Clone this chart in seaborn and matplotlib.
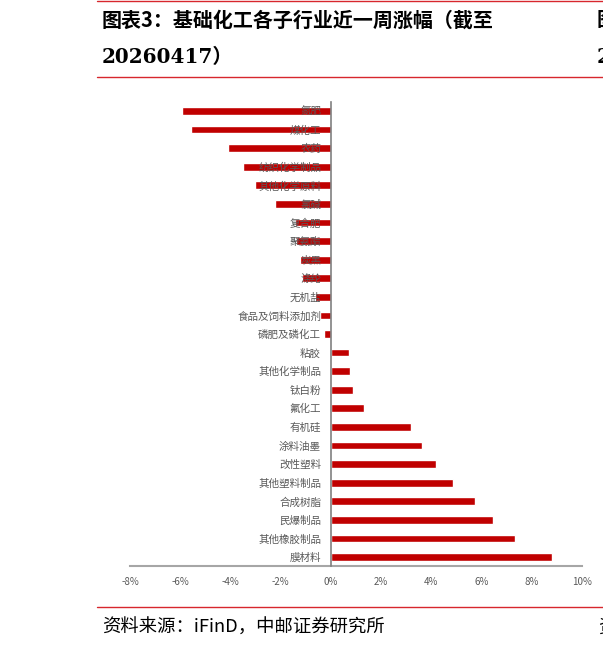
import matplotlib
matplotlib.use("Agg")
import matplotlib.pyplot as plt
import seaborn as sns
import pandas as pd
from matplotlib.lines import Line2D

categories = ["氮肥", "煤化工", "农药", "纺织化学制品", "其他化学原料", "氯碱", "复合肥",
              "聚氨酯", "炭黑", "涤纶", "无机盐", "食品及饲料添加剂", "磷肥及磷化工",
              "粘胶", "其他化学制品", "钛白粉", "氟化工", "有机硅", "涂料油墨", "改性塑料",
              "其他塑料制品", "合成树脂", "民爆制品", "其他橡胶制品", "膜材料"]
values = [-5.93, -5.59, -4.08, -3.51, -3.04, -2.21, -1.43, -1.38, -1.22, -1.16, -0.62,
          -0.44, -0.26, 0.73, 0.76, 0.90, 1.31, 3.21, 3.61, 4.17, 4.86, 5.74, 6.47, 7.32, 8.82]
xticks = [-8, -6, -4, -2, 0, 2, 4, 6, 8, 10]
xtick_labels = [f"{t}%" for t in xticks]
title_line1 = "图表3：基础化工各子行业近一周涨幅（截至"
title_line2 = "20260417）"
source_text = "资料来源：iFinD，中邮证券研究所"

sns.set_theme(style="white")
plt.rcParams['font.family'] = ['Noto Sans CJK SC', 'DejaVu Sans']
plt.rcParams['axes.unicode_minus'] = False

W, H = 603, 649
fig = plt.figure(figsize=(W / 100, H / 100), dpi=100)
ax = fig.add_axes([130 / W, 1 - 566.3 / H, (582 - 130) / W, (566.3 - 101.7) / H])

df = pd.DataFrame({"cat": categories, "val": values})
sns.barplot(data=df, x="val", y="cat", orient="h", color="#C00000", width=0.42,
            saturation=1, ax=ax, order=categories, zorder=1)

ax.set_xlim(-8, 10)
ax.set_xticks(xticks)
ax.set_xticklabels(xtick_labels, fontsize=7, color="#595959")
ax.set_xlabel("")
ax.set_ylabel("")
ax.tick_params(axis="x", length=0, pad=8)
ax.tick_params(axis="y", length=0, pad=7, labelsize=7.6, labelcolor="#595959")
ax.spines['left'].set_position(('data', 0))
for s in ['top', 'right']:
    ax.spines[s].set_visible(False)
ax.spines['left'].set_color("#808080")
ax.spines['bottom'].set_color("#A6A6A6")
ax.spines['left'].set_linewidth(1.2)
ax.spines['bottom'].set_linewidth(1.5)
ax.spines['left'].set_zorder(6)
ax.yaxis.set_zorder(5)
ax.grid(False)

red = "#D7272D"
def hline(ypx, x0=97, x1=603, lw=1.0):
    fig.add_artist(Line2D([x0 / W, x1 / W], [1 - ypx / H, 1 - ypx / H],
                          color=red, lw=lw, transform=fig.transFigure))

hline(1)
hline(77)
hline(607)

fig.text(102 / W, 1 - 20 / H, title_line1, fontsize=14.4, fontweight="bold",
         color="black", va="center", ha="left")
fig.text(102 / W, 1 - 57 / H, title_line2, fontsize=14.4, fontweight="bold",
         color="black", va="center", ha="left", family=['DejaVu Serif', 'Noto Sans CJK SC'])
fig.text(597 / W, 1 - 20 / H, "图", fontsize=14.4, fontweight="bold", color="black",
         va="center", ha="left")
fig.text(597 / W, 1 - 57 / H, "2", fontsize=14.4, fontweight="bold", color="black",
         va="center", ha="left", family=['DejaVu Serif'])
fig.text(102 / W, 1 - 628 / H, source_text, fontsize=13.2, color="black",
         va="center", ha="left", family=['Noto Sans CJK SC', 'DejaVu Sans'])
fig.text(598 / W, 1 - 628 / H, "资", fontsize=13.2, color="black", va="center", ha="left")

fig.savefig("out.png", dpi=100)
